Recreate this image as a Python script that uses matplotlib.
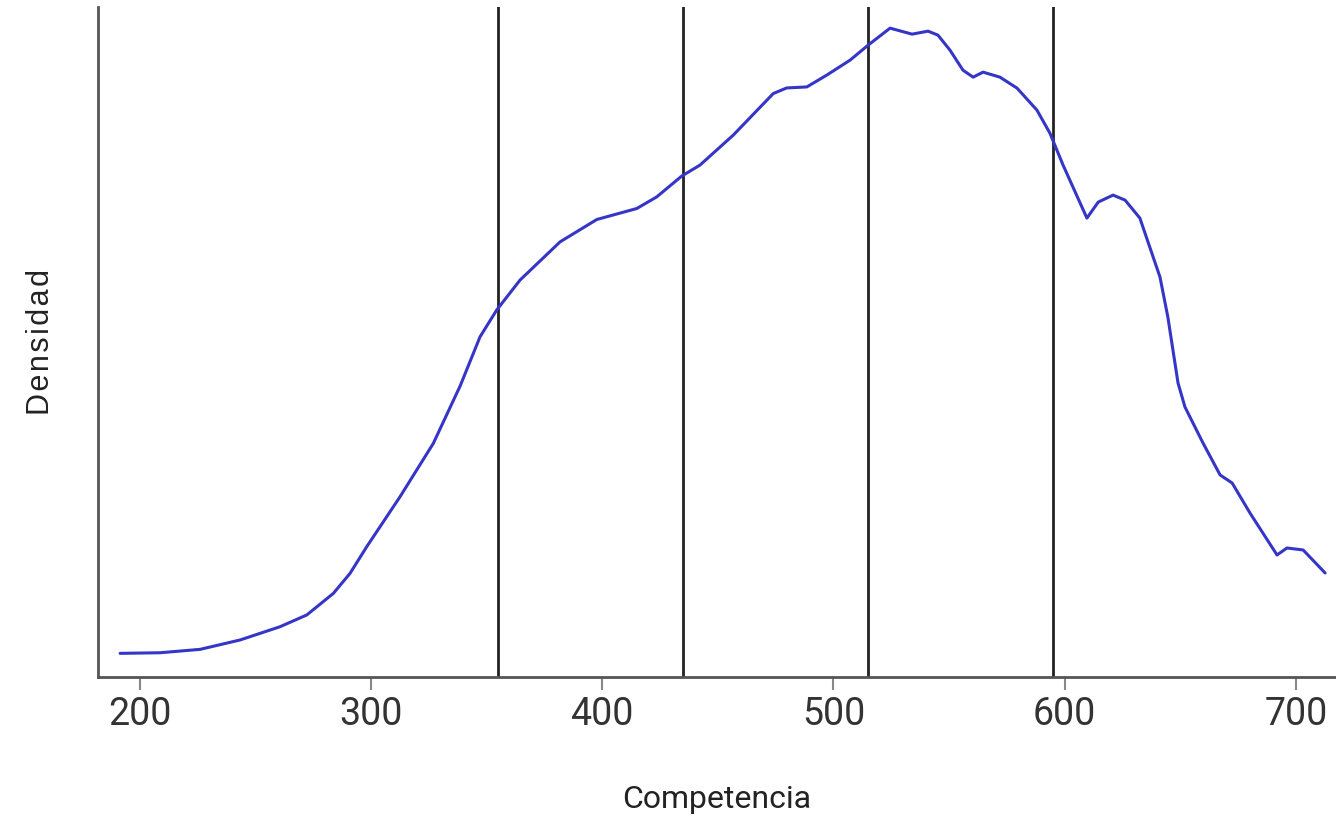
import matplotlib
matplotlib.use("Agg")
import matplotlib.pyplot as plt

# Data (density in units of 1e-3)
competencia = [191.6, 208.9, 226.2, 243.5, 260.7, 272.3, 283.8, 291.0, 298.2, 312.6,
               327.0, 338.6, 347.2, 354.4, 364.5, 381.8, 397.7, 415.0, 423.6, 434.4,
               442.3, 456.7, 474.0, 479.8, 488.5, 497.1, 507.2, 515.0, 524.5, 534.0,
               540.9, 545.2, 550.4, 556.0, 560.4, 564.7, 572.0, 579.4, 588.0, 593.6,
               599.3, 609.6, 614.5, 620.9, 626.1, 632.5, 641.2, 644.6, 649.0, 652.0,
               659.8, 667.2, 672.4, 680.1, 691.8, 696.1, 703.1, 712.6]
densidad = [0.117, 0.120, 0.137, 0.184, 0.250, 0.309, 0.417, 0.517, 0.650, 0.900,
            1.167, 1.454, 1.700, 1.834, 1.984, 2.175, 2.287, 2.342, 2.400, 2.504,
            2.559, 2.709, 2.917, 2.945, 2.950, 3.009, 3.084, 3.159, 3.244, 3.214,
            3.229, 3.209, 3.134, 3.034, 2.999, 3.024, 2.999, 2.944, 2.834, 2.719,
            2.559, 2.294, 2.374, 2.409, 2.384, 2.294, 1.999, 1.799, 1.469, 1.349,
            1.169, 1.009, 0.969, 0.819, 0.609, 0.644, 0.634, 0.519]
cortes = [355, 435, 515, 595]
xticks = [200, 300, 400, 500, 600, 700]

fig = plt.figure(figsize=(13.36, 8.19), dpi=100)
ax = fig.add_axes([0.0734, 0.1737, 0.9266, 0.8178])

ax.plot(competencia, densidad, color="#3535c8", lw=2.2, zorder=3,
        solid_joinstyle="round", solid_capstyle="round")
for c in cortes:
    ax.axvline(c, color="#222222", lw=2.0, zorder=2)

ax.set_xlim(182.06, 717.3)
ax.set_ylim(0, 3.35)

for s in ["top", "right"]:
    ax.spines[s].set_visible(False)
for s in ["left", "bottom"]:
    ax.spines[s].set_color("#555555")
    ax.spines[s].set_linewidth(2.0)

ax.set_yticks([])
ax.set_xticks(xticks)
ax.tick_params(axis="x", length=9, width=1.5, color="#888888", pad=5,
               labelsize=27, labelcolor="#333333")
for lab in ax.get_xticklabels():
    lab.set_family(["Liberation Sans Narrow", "Roboto", "DejaVu Sans"])

ax.set_xlabel("Competencia", fontsize=23, family=["Roboto", "DejaVu Sans"],
              color="#222222", labelpad=37)
ax.set_ylabel("D\u200ae\u200an\u200as\u200ai\u200ad\u200aa\u200ad", fontsize=22,
              family=["Liberation Sans", "DejaVu Sans"],
              color="#222222", labelpad=30)

fig.savefig("out.png", dpi=100)
